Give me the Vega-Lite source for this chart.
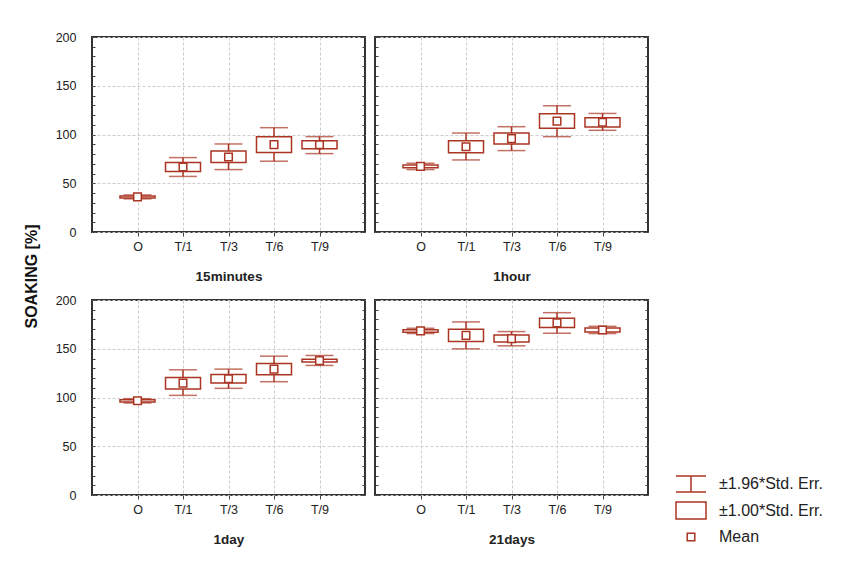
{
  "$schema": "https://vega.github.io/schema/vega-lite/v6.json",
  "padding": {"left": 24, "top": 30, "right": 5, "bottom": 5},
  "datasets": {
    "d": [
      {"panel": "15minutes", "group": "O", "lo2": 34, "lo1": 35, "mean": 36, "hi1": 37, "hi2": 38},
      {"panel": "15minutes", "group": "T/1", "lo2": 57, "lo1": 62, "mean": 66.6, "hi1": 71.2, "hi2": 76.3},
      {"panel": "15minutes", "group": "T/3", "lo2": 64, "lo1": 71.2, "mean": 77, "hi1": 83, "hi2": 90.3},
      {"panel": "15minutes", "group": "T/6", "lo2": 72.6, "lo1": 81.6, "mean": 89.6, "hi1": 97.6, "hi2": 107},
      {"panel": "15minutes", "group": "T/9", "lo2": 80.4, "lo1": 85.5, "mean": 89.5, "hi1": 93.7, "hi2": 97.8},
      {"panel": "1hour", "group": "O", "lo2": 64, "lo1": 65.8, "mean": 67.3, "hi1": 68.8, "hi2": 70.5},
      {"panel": "1hour", "group": "T/1", "lo2": 73.9, "lo1": 81.4, "mean": 87.5, "hi1": 93.7, "hi2": 101.5},
      {"panel": "1hour", "group": "T/3", "lo2": 83.5, "lo1": 90.3, "mean": 95.8, "hi1": 101.5, "hi2": 108},
      {"panel": "1hour", "group": "T/6", "lo2": 97.8, "lo1": 106.3, "mean": 113.7, "hi1": 121.3, "hi2": 129.5},
      {"panel": "1hour", "group": "T/9", "lo2": 104.3, "lo1": 107.7, "mean": 112.5, "hi1": 117.2, "hi2": 121.6},
      {"panel": "1day", "group": "O", "lo2": 94.4, "lo1": 95.4, "mean": 96.6, "hi1": 97.8, "hi2": 98.8},
      {"panel": "1day", "group": "T/1", "lo2": 102.2, "lo1": 108.7, "mean": 114.7, "hi1": 120.6, "hi2": 128.4},
      {"panel": "1day", "group": "T/3", "lo2": 109.4, "lo1": 114.8, "mean": 119.3, "hi1": 123.7, "hi2": 129.1},
      {"panel": "1day", "group": "T/6", "lo2": 116.2, "lo1": 123.3, "mean": 129.1, "hi1": 134.9, "hi2": 142.4},
      {"panel": "1day", "group": "T/9", "lo2": 132.9, "lo1": 136.3, "mean": 137.8, "hi1": 139.3, "hi2": 143.1},
      {"panel": "21days", "group": "O", "lo2": 165.6, "lo1": 167, "mean": 168.3, "hi1": 169.6, "hi2": 171},
      {"panel": "21days", "group": "T/1", "lo2": 149.9, "lo1": 157.4, "mean": 163.7, "hi1": 170, "hi2": 177.5},
      {"panel": "21days", "group": "T/3", "lo2": 153, "lo1": 157, "mean": 160.4, "hi1": 164.2, "hi2": 167.6},
      {"panel": "21days", "group": "T/6", "lo2": 165.9, "lo1": 171.7, "mean": 176.5, "hi1": 181.3, "hi2": 187},
      {"panel": "21days", "group": "T/9", "lo2": 165.6, "lo1": 167.3, "mean": 169.3, "hi1": 171.4, "hi2": 173}
    ]
  },
  "title": {"text": "SOAKING [%]", "orient": "left", "anchor": "middle", "fontSize": 16, "fontWeight": "bold", "font": "Liberation Sans", "color": "#111", "offset": 14, "dx": 12},
  "columns": 2,
  "spacing": {"row": 68, "column": 10},
  "bounds": "flush",
  "concat": [
    {
      "width": 273, "height": 195,
      "data": {"name": "d"},
      "transform": [{"filter": "datum.panel === '15minutes'"}],
      "encoding": {"x": {"field": "group", "type": "ordinal", "scale": {"type": "point", "padding": 1, "domain": ["O", "T/1", "T/3", "T/6", "T/9"]}, "axis": {"title": "15minutes", "labelAngle": 0}}},
      "layer": [
        {"mark": {"type": "rule", "color": "#aa3522", "strokeWidth": 1.5},
         "encoding": {"y": {"field": "lo2", "type": "quantitative", "scale": {"domain": [0, 200]}, "axis": {"orient": "left", "title": null, "values": [0,10,20,30,40,50,60,70,80,90,100,110,120,130,140,150,160,170,180,190,200], "labelExpr": "datum.value % 50 === 0 ? datum.label : ''", "labelOverlap": false, "labelFlush": false, "gridOpacity": {"condition": {"test": "datum.value % 50 === 0", "value": 1}, "value": 0}, "tickSize": -3, "labelPadding": 19}}, "y2": {"field": "hi2"}}},
        {"mark": {"type": "tick", "color": "#aa3522", "size": 28, "thickness": 1.5, "orient": "horizontal"}, "encoding": {"y": {"field": "lo2", "type": "quantitative", "axis": null}}},
        {"mark": {"type": "tick", "color": "#aa3522", "size": 28, "thickness": 1.5, "orient": "horizontal"}, "encoding": {"y": {"field": "hi2", "type": "quantitative", "axis": null}}},
        {"mark": {"type": "bar", "width": 35, "fill": "white", "stroke": "#aa3522", "strokeWidth": 1.5}, "encoding": {"y": {"field": "lo1", "type": "quantitative", "axis": null}, "y2": {"field": "hi1"}}},
        {"mark": {"type": "point", "shape": "M-0.38,-0.38H0.38V0.38H-0.38Z", "size": 400, "filled": true, "fill": "white", "stroke": "#aa3522", "strokeWidth": 1.5, "opacity": 1},
         "encoding": {"y": {"field": "mean", "type": "quantitative", "axis": {"orient": "right", "title": null, "labels": false, "grid": false, "tickSize": -3, "values": [0,10,20,30,40,50,60,70,80,90,100,110,120,130,140,150,160,170,180,190,200]}}}}
      ],
      "resolve": {"axis": {"y": "independent"}}
    },
    {
      "width": 273, "height": 195,
      "data": {"name": "d"},
      "transform": [{"filter": "datum.panel === '1hour'"}],
      "encoding": {"x": {"field": "group", "type": "ordinal", "scale": {"type": "point", "padding": 1, "domain": ["O", "T/1", "T/3", "T/6", "T/9"]}, "axis": {"title": "1hour", "labelAngle": 0}}},
      "layer": [
        {"mark": {"type": "rule", "color": "#aa3522", "strokeWidth": 1.5},
         "encoding": {"y": {"field": "lo2", "type": "quantitative", "scale": {"domain": [0, 200]}, "axis": {"orient": "left", "title": null, "values": [0,10,20,30,40,50,60,70,80,90,100,110,120,130,140,150,160,170,180,190,200], "labels": false, "gridOpacity": {"condition": {"test": "datum.value % 50 === 0", "value": 1}, "value": 0}, "tickSize": -3}}, "y2": {"field": "hi2"}}},
        {"mark": {"type": "tick", "color": "#aa3522", "size": 28, "thickness": 1.5, "orient": "horizontal"}, "encoding": {"y": {"field": "lo2", "type": "quantitative", "axis": null}}},
        {"mark": {"type": "tick", "color": "#aa3522", "size": 28, "thickness": 1.5, "orient": "horizontal"}, "encoding": {"y": {"field": "hi2", "type": "quantitative", "axis": null}}},
        {"mark": {"type": "bar", "width": 35, "fill": "white", "stroke": "#aa3522", "strokeWidth": 1.5}, "encoding": {"y": {"field": "lo1", "type": "quantitative", "axis": null}, "y2": {"field": "hi1"}}},
        {"mark": {"type": "point", "shape": "M-0.38,-0.38H0.38V0.38H-0.38Z", "size": 400, "filled": true, "fill": "white", "stroke": "#aa3522", "strokeWidth": 1.5, "opacity": 1},
         "encoding": {"y": {"field": "mean", "type": "quantitative", "axis": {"orient": "right", "title": null, "labels": false, "grid": false, "tickSize": -3, "values": [0,10,20,30,40,50,60,70,80,90,100,110,120,130,140,150,160,170,180,190,200]}}}}
      ],
      "resolve": {"axis": {"y": "independent"}}
    },
    {
      "width": 273, "height": 195,
      "data": {"name": "d"},
      "transform": [{"filter": "datum.panel === '1day'"}],
      "encoding": {"x": {"field": "group", "type": "ordinal", "scale": {"type": "point", "padding": 1, "domain": ["O", "T/1", "T/3", "T/6", "T/9"]}, "axis": {"title": "1day", "labelAngle": 0}}},
      "layer": [
        {"mark": {"type": "rule", "color": "#aa3522", "strokeWidth": 1.5},
         "encoding": {"y": {"field": "lo2", "type": "quantitative", "scale": {"domain": [0, 200]}, "axis": {"orient": "left", "title": null, "values": [0,10,20,30,40,50,60,70,80,90,100,110,120,130,140,150,160,170,180,190,200], "labelExpr": "datum.value % 50 === 0 ? datum.label : ''", "labelOverlap": false, "labelFlush": false, "gridOpacity": {"condition": {"test": "datum.value % 50 === 0", "value": 1}, "value": 0}, "tickSize": -3, "labelPadding": 19}}, "y2": {"field": "hi2"}}},
        {"mark": {"type": "tick", "color": "#aa3522", "size": 28, "thickness": 1.5, "orient": "horizontal"}, "encoding": {"y": {"field": "lo2", "type": "quantitative", "axis": null}}},
        {"mark": {"type": "tick", "color": "#aa3522", "size": 28, "thickness": 1.5, "orient": "horizontal"}, "encoding": {"y": {"field": "hi2", "type": "quantitative", "axis": null}}},
        {"mark": {"type": "bar", "width": 35, "fill": "white", "stroke": "#aa3522", "strokeWidth": 1.5}, "encoding": {"y": {"field": "lo1", "type": "quantitative", "axis": null}, "y2": {"field": "hi1"}}},
        {"mark": {"type": "point", "shape": "M-0.38,-0.38H0.38V0.38H-0.38Z", "size": 400, "filled": true, "fill": "white", "stroke": "#aa3522", "strokeWidth": 1.5, "opacity": 1},
         "encoding": {"y": {"field": "mean", "type": "quantitative", "axis": {"orient": "right", "title": null, "labels": false, "grid": false, "tickSize": -3, "values": [0,10,20,30,40,50,60,70,80,90,100,110,120,130,140,150,160,170,180,190,200]}}}}
      ],
      "resolve": {"axis": {"y": "independent"}}
    },
    {
      "width": 273, "height": 195,
      "data": {"name": "d"},
      "transform": [{"filter": "datum.panel === '21days'"}],
      "encoding": {"x": {"field": "group", "type": "ordinal", "scale": {"type": "point", "padding": 1, "domain": ["O", "T/1", "T/3", "T/6", "T/9"]}, "axis": {"title": "21days", "labelAngle": 0}}},
      "layer": [
        {"mark": {"type": "rule", "color": "#aa3522", "strokeWidth": 1.5},
         "encoding": {"y": {"field": "lo2", "type": "quantitative", "scale": {"domain": [0, 200]}, "axis": {"orient": "left", "title": null, "values": [0,10,20,30,40,50,60,70,80,90,100,110,120,130,140,150,160,170,180,190,200], "labels": false, "gridOpacity": {"condition": {"test": "datum.value % 50 === 0", "value": 1}, "value": 0}, "tickSize": -3}}, "y2": {"field": "hi2"}}},
        {"mark": {"type": "tick", "color": "#aa3522", "size": 28, "thickness": 1.5, "orient": "horizontal"}, "encoding": {"y": {"field": "lo2", "type": "quantitative", "axis": null}}},
        {"mark": {"type": "tick", "color": "#aa3522", "size": 28, "thickness": 1.5, "orient": "horizontal"}, "encoding": {"y": {"field": "hi2", "type": "quantitative", "axis": null}}},
        {"mark": {"type": "bar", "width": 35, "fill": "white", "stroke": "#aa3522", "strokeWidth": 1.5}, "encoding": {"y": {"field": "lo1", "type": "quantitative", "axis": null}, "y2": {"field": "hi1"}}},
        {"mark": {"type": "point", "size": 400, "filled": false, "color": "#aa3522", "fill": "white", "stroke": "#aa3522", "strokeWidth": 1.5, "opacity": 1},
         "encoding": {
           "y": {"field": "mean", "type": "quantitative", "axis": {"orient": "right", "title": null, "labels": false, "grid": false, "tickSize": -3, "values": [0,10,20,30,40,50,60,70,80,90,100,110,120,130,140,150,160,170,180,190,200]}},
           "shape": {"datum": "Mean", "type": "nominal",
             "scale": {"domain": ["±1.96*Std. Err.", "±1.00*Std. Err.", "Mean"], "range": ["M-1.5,-0.8H1.5M0,-0.8V0.8M-1.5,0.8H1.5", "M-1.5,-0.85H1.5V0.85H-1.5Z", "M-0.38,-0.38H0.38V0.38H-0.38Z"]},
             "legend": {"title": null, "orient": "none", "legendX": 588, "legendY": 436, "symbolSize": 400, "labelFontSize": 16, "labelFont": "Liberation Sans", "labelColor": "#222", "rowPadding": 3.5, "labelOffset": 17}}
         }}
      ],
      "resolve": {"axis": {"y": "independent"}}
    }
  ],
  "config": {
    "font": "Liberation Sans",
    "view": {"stroke": "#333333", "strokeWidth": 2},
    "axis": {"labelFont": "Liberation Sans", "labelFontSize": 12.5, "labelColor": "#222", "titleFont": "Liberation Sans", "titleFontSize": 13.5, "titleFontWeight": "bold", "titleColor": "#222", "domain": false, "gridColor": "#cccccc", "gridDash": [3, 2], "gridWidth": 1, "tickColor": "#444", "tickWidth": 1},
    "axisX": {"tickSize": 4, "labelPadding": 4, "titlePadding": 17, "grid": true}
  }
}
